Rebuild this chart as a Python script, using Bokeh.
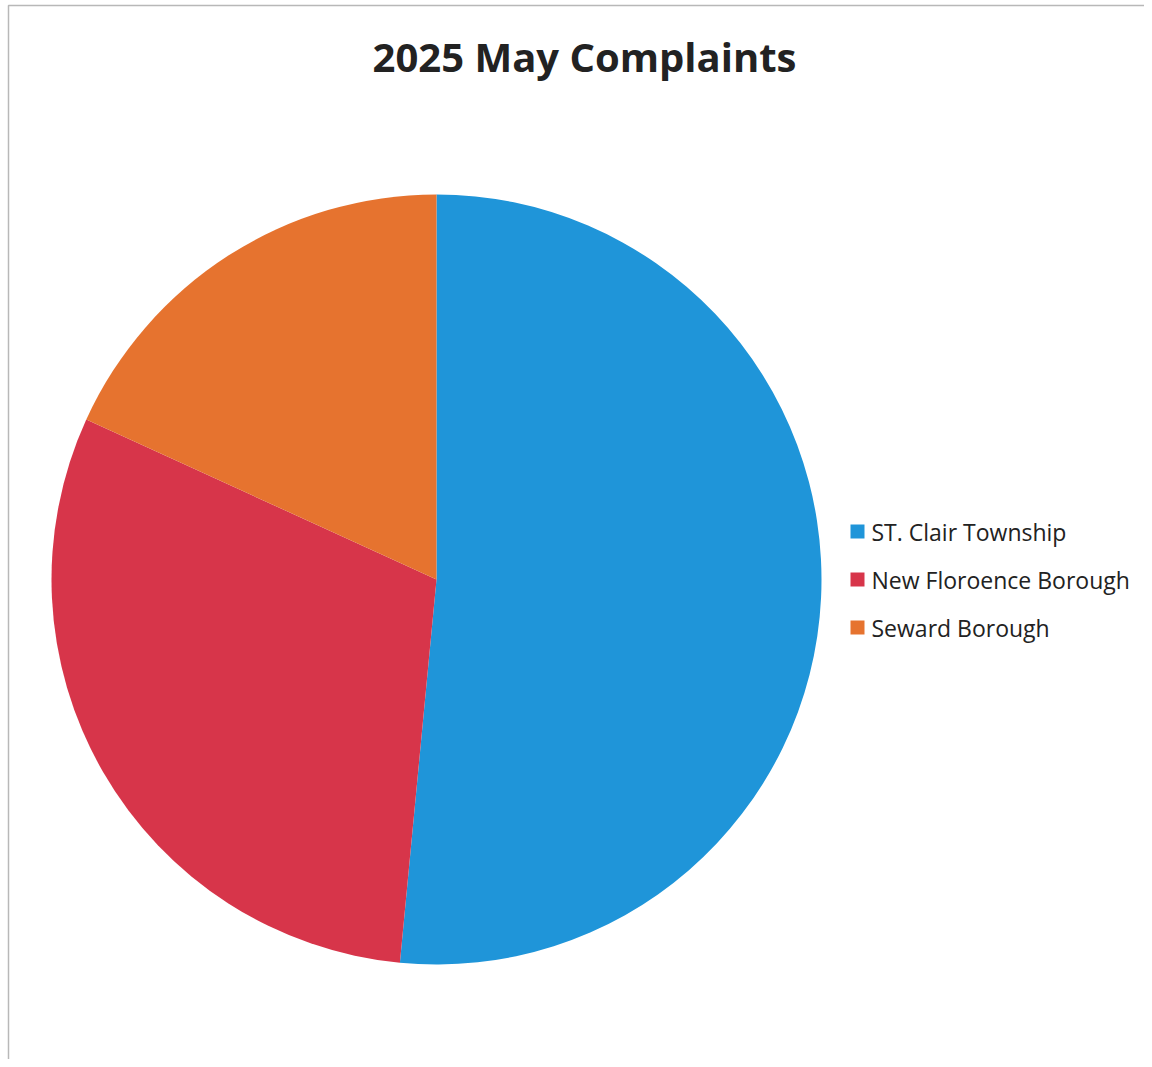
import math
from bokeh.plotting import figure
from bokeh.models import Range1d, ColumnDataSource
from bokeh.core.properties import value
from bokeh.embed import file_html
from bokeh.resources import INLINE

# ---- data ----
title_text = "2025 May Complaints"
categories = ["ST. Clair Township", "New Floroence Borough", "Seward Borough"]
counts = [17, 10, 6]
colors = ["#1F95D9", "#D7354A", "#E6732F"]

# ---- layout (screen pixel coordinates, y measured from the top) ----
W, H = 1144, 1059
cx, cy, r = 436, 579, 385
leg_x, leg_y0, leg_dy = 857, 531, 48
text_x = 871

def sy(y):
    return H - y

total = sum(counts)
starts, ends = [], []
cum = 0.0
for c in counts:
    a0 = math.pi / 2 - 2 * math.pi * cum / total
    cum += c
    a1 = math.pi / 2 - 2 * math.pi * cum / total
    starts.append(a0)
    ends.append(a1)

src = ColumnDataSource(dict(
    cat=categories, count=counts, color=colors,
    start=starts, end=ends,
    lx=[leg_x] * len(categories),
    ly=[sy(leg_y0 + i * leg_dy) for i in range(len(categories))],
    tx=[text_x] * len(categories),
))

p = figure(width=W, height=H, output_backend="svg", toolbar_location=None,
           x_range=Range1d(0, W), y_range=Range1d(0, H),
           min_border=0, min_border_left=0, min_border_right=0,
           min_border_top=0, min_border_bottom=0)
p.axis.visible = False
p.grid.visible = False
p.outline_line_color = None
p.background_fill_color = "white"
p.border_fill_color = "white"

# scanned page frame (left and top edges)
p.line(x=[8, 8, W], y=[sy(H), sy(5), sy(5)], line_color="#b8b8b8", line_width=1.5)

p.wedge(x=cx, y=sy(cy), radius=r, start_angle="start", end_angle="end",
        direction="clock", fill_color="color", line_color=None, source=src)

# legend
p.rect(x="lx", y="ly", width=14, height=14, fill_color="color",
       line_color=None, source=src)
p.text(x="tx", y="ly", text="cat", text_font=value("Open Sans"),
       text_font_size="23px", text_color="#222222",
       text_baseline="middle", text_align="left", source=src)

# title
p.text(x=[584], y=[sy(56)], text=[title_text], text_font=value("Open Sans"),
       text_font_style="bold", text_font_size="40px", text_color="#222222",
       text_align="center", text_baseline="middle")

open("out.html", "w").write(file_html(p, INLINE))
